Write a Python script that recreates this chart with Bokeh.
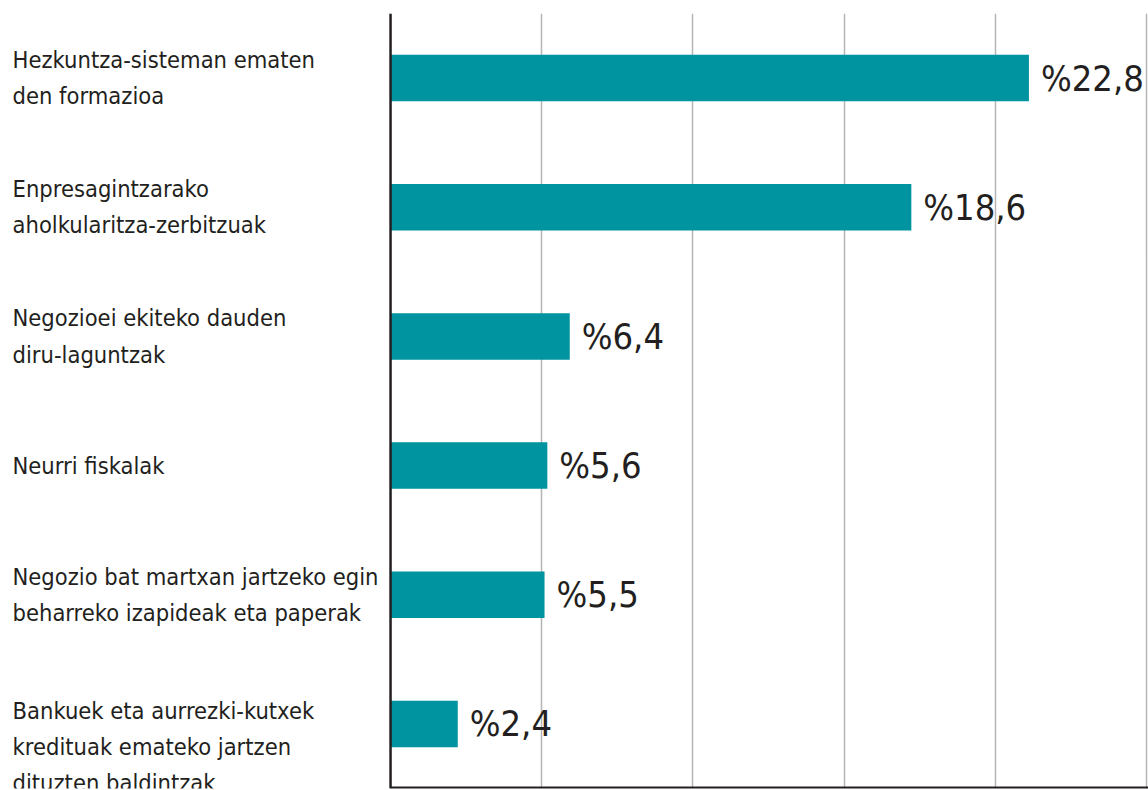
from bokeh.plotting import figure
from bokeh.models import Range1d, FactorRange, Span, Grid, FixedTicker, ColumnDataSource
from bokeh.core.properties import value
from bokeh.embed import file_html
from bokeh.resources import INLINE

categories = [
    "Hezkuntza-sisteman ematen\nden formazioa",
    "Enpresagintzarako\naholkularitza-zerbitzuak",
    "Negozioei ekiteko dauden\ndiru-laguntzak",
    "Neurri fiskalak",
    "Negozio bat martxan jartzeko egin\nbeharreko izapideak eta paperak",
    "Bankuek eta aurrezki-kutxek\nkredituak emateko jartzen\ndituzten baldintzak",
]
percent = [22.8, 18.6, 6.4, 5.6, 5.5, 2.4]
value_labels = ["%22,8", "%18,6", "%6,4", "%5,6", "%5,5", "%2,4"]
grid_ticks = [5.4, 10.8, 16.2, 21.6, 27.0]

# style-only: vertical nudge (px) of each category label
label_nudge = [0, 0, 0, 0, 0, 23]

FONT = "DejaVu Sans Condensed"
TEXT_COLOR = "#231F20"
BAR_COLOR = "#0093A0"

X_MIN, X_MAX = -13.93, 27.07

src = ColumnDataSource(dict(cat=categories, pct=percent, lab=value_labels,
                            lx=[X_MIN + 0.43] * len(categories), nudge=label_nudge))

p = figure(width=1148, height=790, output_backend="svg", toolbar_location=None,
           x_range=Range1d(X_MIN, X_MAX),
           y_range=FactorRange(factors=list(reversed(categories))),
           min_border_left=0, min_border_right=0, min_border_top=13, min_border_bottom=2)
p.axis.visible = False
p.grid.visible = False
p.outline_line_color = None
p.background_fill_color = "white"
p.border_fill_color = "white"

p.add_layout(Grid(dimension=0, ticker=FixedTicker(ticks=grid_ticks),
                  grid_line_color="#B5B5B5", grid_line_width=1.5))

p.hbar(y="cat", left=0, right="pct", height=0.36, source=src,
       fill_color=BAR_COLOR, line_color=None)

p.add_layout(Span(location=0, dimension="height", line_color=TEXT_COLOR, line_width=2.5))
p.segment(x0=[0], y0=[(categories[-1], -0.5)], x1=[X_MAX], y1=[(categories[-1], -0.5)],
          line_color=TEXT_COLOR, line_width=4)

p.text(x="pct", y="cat", text="lab", source=src, x_offset=12,
       text_font=value(FONT), text_font_size="36px", text_color=TEXT_COLOR,
       text_baseline="middle", text_align="left")

p.text(x="lx", y="cat", text="cat", source=src, y_offset="nudge",
       text_font=value(FONT), text_font_size="23.5px", text_color=TEXT_COLOR,
       text_baseline="middle", text_align="left", text_line_height=1.3)

open("out.html", "w").write(file_html(p, INLINE))
